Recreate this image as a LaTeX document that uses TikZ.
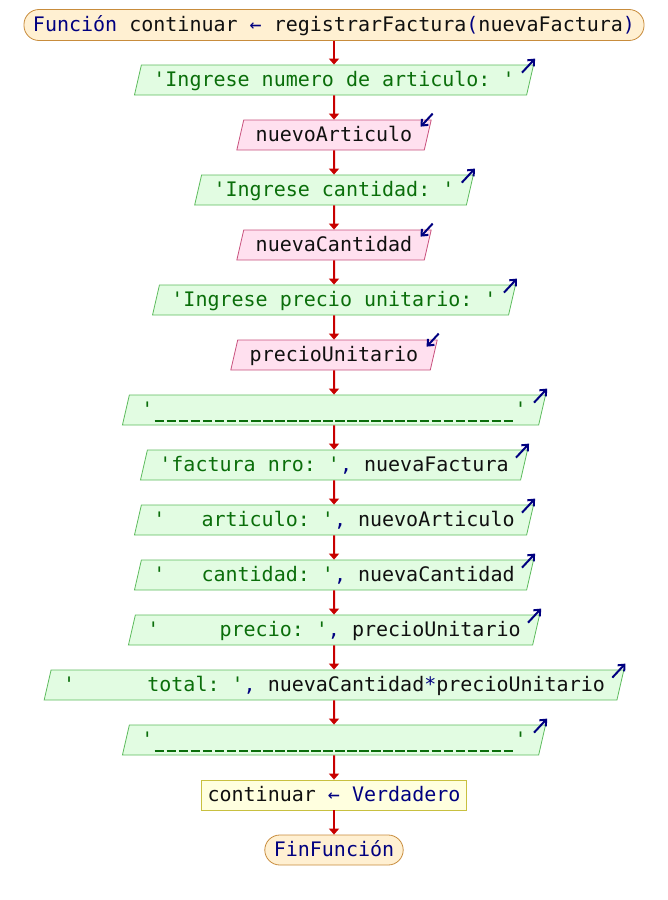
\documentclass[tikz,border=0pt]{standalone}
\usepackage{fontspec}
\setmonofont{DejaVu Sans Mono}
\usetikzlibrary{shapes.geometric,arrows.meta}

\definecolor{fondoverde}{HTML}{E2FCE2}
\definecolor{bordeverde}{HTML}{5DBB5D}
\definecolor{fondolila}{HTML}{FFE0EF}
\definecolor{bordelila}{HTML}{C8507D}
\definecolor{fondoamarillo}{HTML}{FFFFDF}
\definecolor{bordeamarillo}{HTML}{C8C040}
\definecolor{fondonaranja}{HTML}{FFF0D2}
\definecolor{bordenaranja}{HTML}{C88C3C}
\definecolor{rojo}{HTML}{C80000}
\definecolor{azul}{HTML}{000080}
\definecolor{verdetexto}{HTML}{0A6E0A}
\definecolor{negro}{HTML}{101010}

\newcommand\kwd[1]{\textcolor{azul}{#1}}
\newcommand\strg[1]{\textcolor{verdetexto}{#1}}
\newcommand\raya{\makebox[0.602em][c]{\rule[-5.5pt]{9.6pt}{1.6pt}}}
\newcommand\rayas{\raya\raya\raya\raya\raya\raya\raya\raya\raya\raya
	\raya\raya\raya\raya\raya\raya\raya\raya\raya\raya
	\raya\raya\raya\raya\raya\raya\raya\raya\raya\raya}

\begin{document}
\begin{tikzpicture}[x=1pt, y=1pt,
	font=\ttfamily\fontsize{20}{24}\selectfont, text=negro,
	base/.style={minimum height=30pt, inner xsep=12pt, inner ysep=0pt, text height=16pt, text depth=3pt, line width=0.8pt},
	salida/.style={base, trapezium, trapezium left angle=70, trapezium right angle=110,
		trapezium stretches=true, draw=bordeverde, fill=fondoverde},
	entrada/.style={salida, draw=bordelila, fill=fondolila},
	proceso/.style={base, rectangle, inner xsep=6pt, draw=bordeamarillo, fill=fondoamarillo},
	extremo/.style={base, rectangle, rounded corners=15pt, inner xsep=9pt, draw=bordenaranja, fill=fondonaranja},
	flecha/.style={draw=rojo, line width=2pt, -{Triangle[width=10pt,length=6pt]}},
	icono/.style={draw=azul, line width=2pt, -{Straight Barb[length=5pt,width=9pt]}}]
	\useasboundingbox (0,0) rectangle (668,-900);

	\node[extremo, minimum height=31pt] (ini) at (334,-25) {\kwd{Función} continuar \kwd{←} registrarFactura\kwd{(}nuevaFactura\kwd{)}};
	\node[salida] (s1) at (334,-80) {\strg{'Ingrese numero de articulo: '}};
	\node[entrada] (e1) at (334,-135) {nuevoArticulo};
	\node[salida] (s2) at (334,-190) {\strg{'Ingrese cantidad: '}};
	\node[entrada] (e2) at (334,-245) {nuevaCantidad};
	\node[salida] (s3) at (334,-300) {\strg{'Ingrese precio unitario: '}};
	\node[entrada] (e3) at (334,-355) {precioUnitario};
	\node[salida] (s4) at (334,-410) {\strg{'\rayas'}};
	\node[salida] (s5) at (334,-465) {\strg{'factura nro: '}\kwd{,} nuevaFactura};
	\node[salida] (s6) at (334,-520) {\strg{'\hphantom{000}articulo: '}\kwd{,} nuevoArticulo};
	\node[salida] (s7) at (334,-575) {\strg{'\hphantom{000}cantidad: '}\kwd{,} nuevaCantidad};
	\node[salida] (s8) at (334,-630) {\strg{'\hphantom{00000}precio: '}\kwd{,} precioUnitario};
	\node[salida] (s9) at (334,-685) {\strg{'\hphantom{000000}total: '}\kwd{,} nuevaCantidad\kwd{*}precioUnitario};
	\node[salida] (s10) at (334,-740) {\strg{'\rayas'}};
	\node[proceso] (asig) at (334,-795) {continuar \kwd{← Verdadero}};
	\node[extremo] (fin) at (334,-850) {\kwd{FinFunción}};

	\draw[flecha] (ini) -- (s1);
	\draw[flecha] (s1) -- (e1);
	\draw[flecha] (e1) -- (s2);
	\draw[flecha] (s2) -- (e2);
	\draw[flecha] (e2) -- (s3);
	\draw[flecha] (s3) -- (e3);
	\draw[flecha] (e3) -- (s4);
	\draw[flecha] (s4) -- (s5);
	\draw[flecha] (s5) -- (s6);
	\draw[flecha] (s6) -- (s7);
	\draw[flecha] (s7) -- (s8);
	\draw[flecha] (s8) -- (s9);
	\draw[flecha] (s9) -- (s10);
	\draw[flecha] (s10) -- (asig);
	\draw[flecha] (asig) -- (fin);

	\draw[icono] ([shift={(-12,-8)}]s1.top right corner) -- ([shift={(1,6)}]s1.top right corner);
	\draw[icono] ([shift={(-12,-8)}]s2.top right corner) -- ([shift={(1,6)}]s2.top right corner);
	\draw[icono] ([shift={(-12,-8)}]s3.top right corner) -- ([shift={(1,6)}]s3.top right corner);
	\draw[icono] ([shift={(-12,-8)}]s4.top right corner) -- ([shift={(1,6)}]s4.top right corner);
	\draw[icono] ([shift={(-12,-8)}]s5.top right corner) -- ([shift={(1,6)}]s5.top right corner);
	\draw[icono] ([shift={(-12,-8)}]s6.top right corner) -- ([shift={(1,6)}]s6.top right corner);
	\draw[icono] ([shift={(-12,-8)}]s7.top right corner) -- ([shift={(1,6)}]s7.top right corner);
	\draw[icono] ([shift={(-12,-8)}]s8.top right corner) -- ([shift={(1,6)}]s8.top right corner);
	\draw[icono] ([shift={(-12,-8)}]s9.top right corner) -- ([shift={(1,6)}]s9.top right corner);
	\draw[icono] ([shift={(-12,-8)}]s10.top right corner) -- ([shift={(1,6)}]s10.top right corner);
	\draw[icono] ([shift={(1,6)}]e1.top right corner) -- ([shift={(-11,-7)}]e1.top right corner);
	\draw[icono] ([shift={(1,6)}]e2.top right corner) -- ([shift={(-11,-7)}]e2.top right corner);
	\draw[icono] ([shift={(1,6)}]e3.top right corner) -- ([shift={(-11,-7)}]e3.top right corner);
\end{tikzpicture}
\end{document}
